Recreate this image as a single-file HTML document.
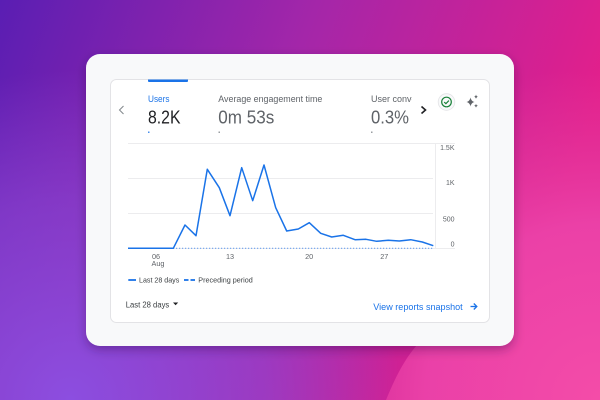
<!DOCTYPE html>
<html><head><meta charset="utf-8"><style>
html,body{margin:0;padding:0;width:600px;height:400px;overflow:hidden}
svg{display:block}
text{font-family:"Liberation Sans",Arial,sans-serif}
</style></head><body>
<svg width="600" height="400" viewBox="0 0 600 400" xmlns="http://www.w3.org/2000/svg">
<defs>
<linearGradient id="bg" x1="0" y1="0" x2="1" y2="0.25">
<stop offset="0" stop-color="#5a1eb3"/>
<stop offset="0.5" stop-color="#a426a9"/>
<stop offset="1" stop-color="#e31f8b"/>
</linearGradient>
<radialGradient id="bl" cx="70" cy="400" r="330" gradientUnits="userSpaceOnUse">
<stop offset="0" stop-color="#8c4ee0" stop-opacity="1"/>
<stop offset="0.6" stop-color="#8c48d6" stop-opacity="0.6"/>
<stop offset="1" stop-color="#8c48d6" stop-opacity="0"/>
</radialGradient>
<radialGradient id="pk" cx="600" cy="400" r="390" gradientUnits="userSpaceOnUse">
<stop offset="0" stop-color="#f44ca8" stop-opacity="1"/>
<stop offset="0.45" stop-color="#ec44aa" stop-opacity="0.9"/>
<stop offset="0.7" stop-color="#e43aa0" stop-opacity="0.4"/>
<stop offset="0.85" stop-color="#e43aa0" stop-opacity="0"/>
</radialGradient>
<clipPath id="pc">
<path d="M386,400 C395,378 405,358 418,344 L514,200 L514,-10 L610,-10 L610,410 Z"/>
</clipPath>
<filter id="sh" x="-10%" y="-10%" width="120%" height="130%">
<feDropShadow dx="0" dy="4" stdDeviation="5" flood-color="#2a0040" flood-opacity="0.35"/>
</filter>
</defs>
<rect width="600" height="400" fill="url(#bg)"/>
<rect width="600" height="400" fill="url(#bl)"/>
<rect width="600" height="400" fill="url(#pk)" clip-path="url(#pc)"/>

<!-- outer card -->
<rect x="86" y="54" width="428" height="292" rx="14" fill="#f8f9fa" filter="url(#sh)"/>
<!-- inner card -->
<rect x="110.5" y="79.5" width="379" height="243" rx="6" fill="#ffffff" stroke="#e3e3e6" stroke-width="1"/>
<!-- tab indicator -->
<path d="M148,79.5 L188,79.5 L188,81 Q188,82 187,82 L149,82 Q148,82 148,81 Z" fill="#1a73e8"/>

<!-- left chevron -->
<polyline points="123.5,106 119.5,110 123.5,114" fill="none" stroke="#80868b" stroke-width="1"/>

<!-- tabs -->
<text x="148" y="102" font-size="9" fill="#1a73e8" textLength="21.5" lengthAdjust="spacingAndGlyphs">Users</text>
<text x="148" y="123.3" font-size="18" fill="#202124" textLength="32.5" lengthAdjust="spacingAndGlyphs">8.2K</text>
<rect x="148" y="131.6" width="1.5" height="1.2" fill="#1a73e8"/>

<text x="218.3" y="102" font-size="9" fill="#5f6368" textLength="104" lengthAdjust="spacingAndGlyphs">Average engagement time</text>
<text x="218.3" y="123.3" font-size="18" fill="#5f6368" textLength="56" lengthAdjust="spacingAndGlyphs">0m 53s</text>
<rect x="218.5" y="131.6" width="1.5" height="1.2" fill="#80868b"/>

<svg x="371" y="90" width="41" height="40" overflow="hidden">
<text x="0" y="12" font-size="9" fill="#5f6368">User conversion</text>
</svg>
<text x="371" y="123.3" font-size="18" fill="#5f6368" textLength="38" lengthAdjust="spacingAndGlyphs">0.3%</text>
<rect x="371" y="131.6" width="1.5" height="1.2" fill="#80868b"/>

<!-- right chevron -->
<polyline points="421.5,106.5 425.5,110 421.5,113.5" fill="none" stroke="#202124" stroke-width="1.6"/>

<!-- check circle -->
<circle cx="446.5" cy="102" r="8.3" fill="#f8f9fa" stroke="#e3e3e6" stroke-width="0.8"/>
<circle cx="446.5" cy="102" r="4.8" fill="none" stroke="#188038" stroke-width="1.2"/>
<polyline points="444.2,102.1 445.9,103.7 448.9,100.6" fill="none" stroke="#188038" stroke-width="1.2"/>

<!-- sparkle -->
<path d="M470.5,97.5 Q471.2,101.3 474.5,102 Q471.2,102.7 470.5,106.5 Q469.8,102.7 466.5,102 Q469.8,101.3 470.5,97.5 Z" fill="#5f6368"/>
<path d="M476,94.5 Q476.3,96.4 478,96.7 Q476.3,97 476,98.9 Q475.7,97 474,96.7 Q475.7,96.4 476,94.5 Z" fill="#5f6368"/>
<path d="M476,103.8 Q476.3,105.5 478,105.8 Q476.3,106.1 476,107.8 Q475.7,106.1 474,105.8 Q475.7,105.5 476,103.8 Z" fill="#5f6368"/>

<!-- gridlines -->
<g stroke="#ececee" stroke-width="1">
<line x1="128" y1="143.5" x2="455" y2="143.5"/>
<line x1="128" y1="178.5" x2="433" y2="178.5"/>
<line x1="128" y1="213.5" x2="433" y2="213.5"/>
<line x1="128" y1="248.5" x2="455" y2="248.5"/>
<line x1="435.5" y1="143.5" x2="435.5" y2="248.5"/>
</g>

<!-- y labels -->
<g font-size="7" fill="#5f6368" text-anchor="end">
<text x="454.5" y="150">1.5K</text>
<text x="454.5" y="185">1K</text>
<text x="454.5" y="221.3">500</text>
<text x="454.5" y="246.7">0</text>
</g>

<!-- x labels -->
<g font-size="7.3" fill="#5f6368" text-anchor="middle">
<text x="156" y="259">06</text>
<text x="158" y="266">Aug</text>
<text x="230" y="259">13</text>
<text x="309.2" y="259">20</text>
<text x="384.3" y="259">27</text>
</g>

<!-- preceding period -->
<line x1="173" y1="248.3" x2="433" y2="248.3" stroke="#6fa3f0" stroke-width="1.2" stroke-dasharray="1.2 1.8"/>

<!-- series -->
<polyline fill="none" stroke="#1a73e8" stroke-width="1.5" stroke-linejoin="round" points="128,248.3 173.3,248.3 185,225 196,235.7 207.3,169.3 219.3,187.7 230,215.7 241.7,167.7 252.7,200.7 264,165 275.7,207.7 286.7,231 298.3,229 309.3,222.7 320.7,233.3 331.7,237 343.3,235.3 355,239.7 366,239.3 376.7,241.3 388.3,240.3 399.3,241 410.7,239.7 422.3,242 433.3,245.7"/>

<!-- legend -->
<line x1="128.3" y1="280" x2="136" y2="280" stroke="#1a73e8" stroke-width="1.8"/>
<text x="139" y="282.6" font-size="7.2" fill="#3c4043" textLength="40.3" lengthAdjust="spacingAndGlyphs">Last 28 days</text>
<line x1="184" y1="280" x2="188.5" y2="280" stroke="#1a73e8" stroke-width="1.8"/>
<line x1="190.5" y1="280" x2="195" y2="280" stroke="#1a73e8" stroke-width="1.8"/>
<text x="198.3" y="282.6" font-size="7.2" fill="#3c4043" textLength="54.4" lengthAdjust="spacingAndGlyphs">Preceding period</text>

<!-- footer -->
<text x="125.7" y="307.3" font-size="8" fill="#3c4043" textLength="43.6" lengthAdjust="spacingAndGlyphs">Last 28 days</text>
<path d="M173,302.5 L178.2,302.5 L175.6,305.3 Z" fill="#202124"/>
<text x="373.3" y="310" font-size="9.5" fill="#1a73e8" textLength="89.4" lengthAdjust="spacingAndGlyphs">View reports snapshot</text>
<g stroke="#1a73e8" stroke-width="1.3" fill="none">
<line x1="470.5" y1="306.5" x2="476.5" y2="306.5"/>
<polyline points="473.8,303.5 476.8,306.5 473.8,309.5"/>
</g>
</svg>
</body></html>
